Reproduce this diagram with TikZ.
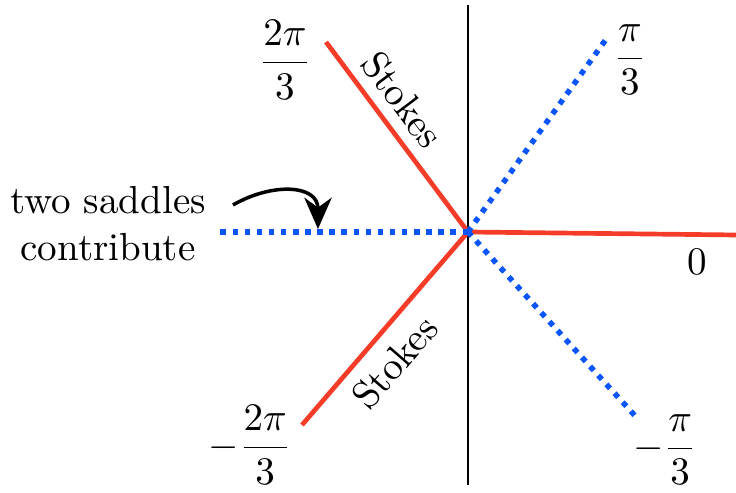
\documentclass[tikz,border=0pt]{standalone}
\usepackage{amsmath}
\usepackage{amssymb}
\usepackage{tikz}
\usetikzlibrary{arrows.meta}
\usepackage{xcolor}
\definecolor{stokesred}{RGB}{245,60,40}
\definecolor{dotblue}{RGB}{10,85,250}

\begin{document}
\begin{tikzpicture}[stokesline/.style={stokesred, line width=1.2pt},
  dotline/.style={dotblue, line width=1.4pt, dash pattern=on 1.4pt off 1.7pt}]

\useasboundingbox (-4.212,-2.349) rectangle (2.412,2.088);

\coordinate (O) at (0,0);
\coordinate (top) at (0,2.043);
\coordinate (bot) at (0,-2.277);
\draw[line width=0.4pt] (top) -- (bot);

\coordinate (r0) at (2.412,-0.027);
\coordinate (rup) at (-1.278,1.71);
\coordinate (rdown) at (-1.494,-1.737);
\draw[stokesline] (O) -- (r0);
\draw[stokesline] (O) -- (rup);
\draw[stokesline] (O) -- (rdown);

\coordinate (bup) at (1.251,1.746);
\coordinate (bdown) at (1.521,-1.674);
\coordinate (bleft) at (-2.25,0);
\draw[dotline] (O) -- (bup);
\draw[dotline] (O) -- (bdown);
\draw[dotline] (O) -- (bleft);

\node (lup) at (-1.647,1.548) {$\dfrac{2\pi}{3}$};
\node (lpi) at (1.458,1.548) {$\dfrac{\pi}{3}$};
\node (ldown) at (-1.962,-1.917) {$-\dfrac{2\pi}{3}$};
\node (lmpi) at (1.773,-1.962) {$-\dfrac{\pi}{3}$};
\node (lzero) at (2.061,-0.27) {$0$};

\node[rotate=-53] (sup) at (-0.59,1.19) {Stokes};
\node[rotate=49] (sdown) at (-0.66,-1.17) {Stokes};

\node[align=center] (two) at (-3.24,0.072) {two saddles\\contribute};
\coordinate (astart) at (-2.115,0.243);
\coordinate (aend) at (-1.35,0.027);
\draw[-{Stealth[length=8pt,width=7pt,inset=2.5pt]}, line width=0.9pt] (astart) to[out=30, in=90, looseness=1.3] (aend);

\end{tikzpicture}
\end{document}
